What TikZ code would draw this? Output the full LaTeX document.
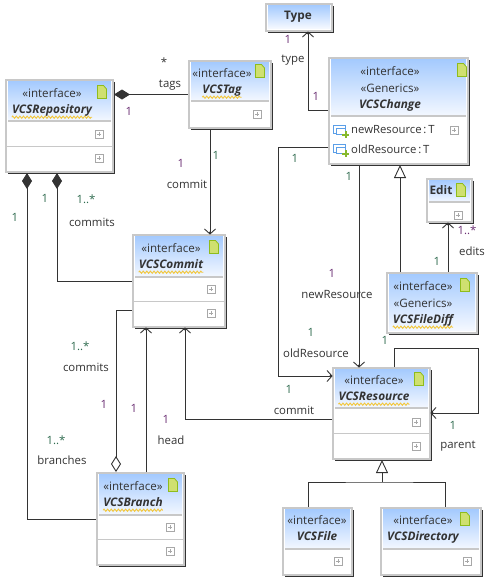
\documentclass[tikz,border=0pt]{standalone}
\usepackage{fontspec}
\setmainfont{Open Sans}
\usetikzlibrary{arrows.meta,decorations.pathmorphing,shadows}
\definecolor{Ink}{HTML}{333333}
\definecolor{BoxEdge}{HTML}{C8C8C8}
\definecolor{HeadTop}{HTML}{A4CAFE}
\definecolor{HeadBottom}{HTML}{F4F8FF}
\definecolor{DocFill}{HTML}{CFE070}
\definecolor{DocEdge}{HTML}{8FBC1C}
\definecolor{Squiggle}{HTML}{F2C63A}
\definecolor{PlusEdge}{HTML}{A8A8A8}
\definecolor{AttrBlue}{HTML}{5B9FE8}
\definecolor{AttrGreen}{HTML}{86B92C}
\definecolor{MultGreen}{HTML}{2F6B4F}
\definecolor{MultPurple}{HTML}{6B2F73}
\tikzset{
  classBox/.style={draw=BoxEdge, fill=white, line width=2pt, anchor=north west, inner sep=0pt,
    drop shadow={shadow xshift=2pt, shadow yshift=-2pt, fill=Ink, opacity=1}},
  classHead/.style={top color=HeadTop, bottom color=HeadBottom, anchor=north, inner sep=0pt, outer sep=0pt},
  stereo/.style={font=\fontsize{11.6}{13}\selectfont, text=Ink, inner sep=0pt},
  className/.style={font=\fontsize{11.8}{13}\selectfont\bfseries\itshape, text=Ink, inner sep=0pt,
    text height=9pt, text depth=4pt},
  plainName/.style={font=\fontsize{11.8}{13}\selectfont\bfseries, text=Ink, inner sep=0pt},
  attrText/.style={font=\fontsize{11.3}{13}\selectfont, text=Ink, inner sep=0pt, anchor=west},
  squiggle/.style={draw=Squiggle, line width=0.9pt, decorate,
    decoration={zigzag, segment length=3.6pt, amplitude=1.1pt}},
  thickRule/.style={draw=BoxEdge, line width=2pt},
  thinRule/.style={draw=BoxEdge, line width=1pt},
  assoc/.style={draw=Ink, line width=0.9pt},
  openEnd/.style={assoc, -{Straight Barb[length=5pt,width=11pt,sep=-3pt]Circle[length=2.4pt]}},
  partOf/.style={assoc, {Diamond[length=16pt,width=10pt]}-},
  sharedOf/.style={assoc, {Diamond[open,fill=white,length=16pt,width=10pt]}-},
  generalize/.style={assoc, -{Triangle[open,fill=white,length=13pt,width=12pt]}},
  assocLabel/.style={font=\fontsize{11.4}{13}\selectfont, text=Ink, inner sep=0pt},
  multGreen/.style={assocLabel, text=MultGreen},
  multPurple/.style={assocLabel, text=MultPurple},
  docicon/.pic={
    \draw[fill=DocFill, draw=DocEdge, line width=0.8pt]
      (-4.5,-6.5) -- (1.5,-6.5) -- (4.5,-3) -- (4.5,6.5) -- (-4.5,6.5) -- cycle;
  },
  plusicon/.pic={
    \draw[draw=PlusEdge, fill=white, line width=0.7pt] (-4,-4) rectangle (4,4);
    \draw[draw=PlusEdge, line width=0.7pt] (-2,0) -- (2,0) (0,-2) -- (0,2);
  },
  attricon/.pic={
    \draw[draw=AttrBlue, fill=white, line width=0.8pt] (-6.5,-4.5) rectangle (5,3);
    \draw[draw=AttrBlue, fill=white, line width=0.8pt] (-4,-2) rectangle (5,4);
    \draw[draw=AttrGreen, line width=2pt] (2,4.5) -- (9,4.5) (5.5,1) -- (5.5,8);
  },
}
\begin{document}
\begin{tikzpicture}[x=1pt, y=-1pt]
  \useasboundingbox (0,0) rectangle (488,579);

  % Outer frames, then the shaded heading inside each of them.
  \node[classBox, minimum width=107pt, minimum height=92pt] (repo) at (5,79) {};
  \node[classBox, minimum width=82pt, minimum height=67pt] (tag) at (188,60) {};
  \node[classBox, minimum width=66pt, minimum height=27pt] (type) at (265,3) {};
  \node[classBox, minimum width=139pt, minimum height=106pt] (change) at (328,57) {};
  \node[classBox, minimum width=45pt, minimum height=43pt] (edit) at (426,178) {};
  \node[classBox, minimum width=92pt, minimum height=92pt] (commit) at (132,234) {};
  \node[classBox, minimum width=90pt, minimum height=60pt] (diff) at (386,272) {};
  \node[classBox, minimum width=97pt, minimum height=91pt] (res) at (332,367) {};
  \node[classBox, minimum width=87pt, minimum height=92pt] (branch) at (96,472) {};
  \node[classBox, minimum width=69pt, minimum height=67pt] (file) at (282,507) {};
  \node[classBox, minimum width=100pt, minimum height=67pt] (dir) at (380,507) {};

  \node[classHead, minimum width=103pt, minimum height=40pt] (repoHead) at ([yshift=-2pt]repo.north) {};
  \node[classHead, minimum width=78pt, minimum height=39pt] (tagHead) at ([yshift=-2pt]tag.north) {};
  \node[classHead, minimum width=62pt, minimum height=23pt] (typeHead) at ([yshift=-2pt]type.north) {};
  \node[classHead, minimum width=135pt, minimum height=57pt] (changeHead) at ([yshift=-2pt]change.north) {};
  \node[classHead, minimum width=41pt, minimum height=22pt] (editHead) at ([yshift=-2pt]edit.north) {};
  \node[classHead, minimum width=88pt, minimum height=41pt] (commitHead) at ([yshift=-2pt]commit.north) {};
  \node[classHead, minimum width=86pt, minimum height=56pt] (diffHead) at ([yshift=-2pt]diff.north) {};
  \node[classHead, minimum width=93pt, minimum height=39pt] (resHead) at ([yshift=-2pt]res.north) {};
  \node[classHead, minimum width=83pt, minimum height=41pt] (branchHead) at ([yshift=-2pt]branch.north) {};
  \node[classHead, minimum width=65pt, minimum height=40pt] (fileHead) at ([yshift=-2pt]file.north) {};
  \node[classHead, minimum width=96pt, minimum height=40pt] (dirHead) at ([yshift=-2pt]dir.north) {};

  % Heading texts.
  \node[stereo] (repoStereo) at (52,93) {«interface»};
  \node[className] (repoName) at (52,110.5) {VCSRepository};
  \node[stereo] (tagStereo) at (222,73) {«interface»};
  \node[className] (tagName) at (222,90.5) {VCSTag};
  \node[plainName] (typeName) at (298,17) {Type};
  \node[stereo] (changeStereo) at (390,71) {«interface»};
  \node[stereo] (changeGeneric) at (390,88) {«Generics»};
  \node[className] (changeName) at (390,105.5) {VCSChange};
  \node[plainName] (editName) at (441,190) {Edit};
  \node[stereo] (commitStereo) at (171,248) {«interface»};
  \node[className] (commitName) at (171,265.5) {VCSCommit};
  \node[stereo] (diffStereo) at (423,286) {«interface»};
  \node[stereo] (diffGeneric) at (423,303) {«Generics»};
  \node[className] (diffName) at (423,320.5) {VCSFileDiff};
  \node[stereo] (resStereo) at (374,380) {«interface»};
  \node[className] (resName) at (374,397.5) {VCSResource};
  \node[stereo] (branchStereo) at (133,486) {«interface»};
  \node[className] (branchName) at (133,503.5) {VCSBranch};
  \node[stereo] (fileStereo) at (317,520) {«interface»};
  \node[className] (fileName) at (317,537.5) {VCSFile};
  \node[stereo] (dirStereo) at (423,520) {«interface»};
  \node[className] (dirName) at (423,537.5) {VCSDirectory};

  \foreach \nm in {repo,tag,commit,diff,res,branch}
    \draw[squiggle] (\nm Name.south west) -- (\nm Name.south east);

  % Compartment rules and small icons.
  \foreach \nm in {repo,tag,change,edit,commit,res,branch,file,dir}
    \draw[thickRule] (\nm Head.south west) -- (\nm Head.south east);
  \draw[thinRule] (repo.west |- 0,146) -- (repo.east |- 0,146);
  \draw[thinRule] (commit.west |- 0,301) -- (commit.east |- 0,301);
  \draw[thinRule] (res.west |- 0,433) -- (res.east |- 0,433);
  \draw[thinRule] (branch.west |- 0,539) -- (branch.east |- 0,539);

  \foreach \ix/\iy in {102/92,260/71,462/70,461/190,214/247,465/285,419/379,173/485,465/519}
    \pic at (\ix,\iy) {docicon};
  \foreach \ix/\iy in {99/134,99/158,257/114,454/130,458/215,211/289,211/313,416/422,416/446,170/527,170/551,338/561,467/561}
    \pic at (\ix,\iy) {plusicon};
  \pic at (340,130) {attricon};
  \pic at (340,149) {attricon};
  \node[attrText] (newAttr) at (351,130) {newResource\,:\,T};
  \node[attrText] (oldAttr) at (351,149) {oldResource\,:\,T};

  % Associations between the classes.
  \draw[partOf] (repo.east |- tag.west) -- (tag.west);
  \draw[partOf] (57,0 |- repo.south) |- (commit.west);
  \draw[partOf] (27,0 |- repo.south) |- (branch.west);
  \draw[sharedOf] (116,0 |- branch.north) |- (commit.west |- 0,310);
  \draw[openEnd] (146,0 |- branch.north) -- (146,0 |- commit.south);
  \draw[openEnd] (res.west |- 0,419) -| (185,0 |- commit.south);
  \draw[openEnd] (210,0 |- tag.south) -- (210,0 |- commit.north);
  \draw[openEnd] (change.west |- 0,110) -| (308,0 |- type.south);
  \draw[openEnd] (359,0 |- change.south) -- (359,0 |- res.north);
  \draw[openEnd] (change.west |- 0,147) -- ++(-50,0) |- (res.west |- 0,376);
  \draw[openEnd] (448,0 |- diff.north) -- (448,0 |- edit.south);
  \draw[generalize] (400,0 |- diff.north) -- (400,0 |- change.south);
  \draw[openEnd] (394,0 |- res.north) -- ++(0,-19) -- ++(84,0) |- (res.east |- 0,413);

  \coordinate (genJoin) at (382,482);
  \draw[generalize] (genJoin) -- (382,0 |- res.south);
  \draw[assoc] (308,0 |- file.north) |- (genJoin) -| (445,0 |- dir.north);

  % Role names and multiplicities.
  \foreach \lx/\ly/\txt [count=\i] in {164/62/*,170/85/tags,187/184/commit,92/222/commits,293/60/type,
      86/367/commits,62/460/branches,171/440/head,337/294/newResource,316/353/oldResource,
      472/251/edits,294/410/commit,458/446/parent}
    \node[assocLabel] (role\i) at (\lx,\ly) {\txt};
  \foreach \lx/\ly/\txt [count=\i] in {216/155/1,15/217/1,45/198/1,86/199/1..*,295/158/1,349/176/1,
      80/346/1..*,56/440/1..*,311/332/1,385/340/1,437/261/1,289/389/1,453/425/1}
    \node[multGreen] (multG\i) at (\lx,\ly) {\txt};
  \foreach \lx/\ly/\txt [count=\i] in {129/111/1,181/163/1,288/39/1,316/96/1,104/404/1,134/408/1,
      166/419/1,332/273/1,467/230/1..*}
    \node[multPurple] (multP\i) at (\lx,\ly) {\txt};
\end{tikzpicture}
\end{document}
